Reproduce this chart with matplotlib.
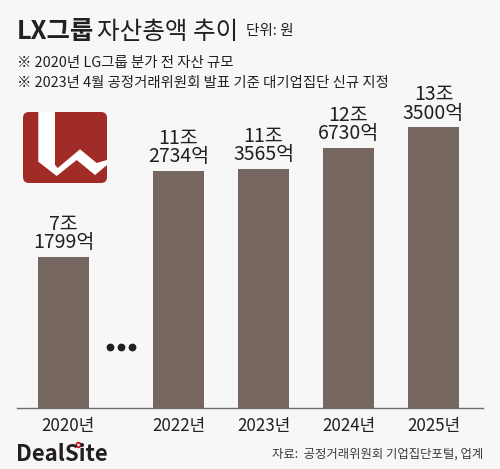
import matplotlib
matplotlib.use("Agg")
import matplotlib.pyplot as plt
from matplotlib.patches import FancyBboxPatch, Polygon, Circle
from matplotlib.transforms import ScaledTranslation

plt.rcParams['font.family'] = ['Noto Sans CJK KR', 'DejaVu Sans']

years = ['2020년', '2022년', '2023년', '2024년', '2025년']
positions = [0, 1.353, 2.353, 3.353, 4.353]
bar_heights = [7.18, 11.27, 11.36, 12.36, 13.35]
value_labels = ['7조\n1799억', '11조\n2734억', '11조\n3565억', '12조\n6730억', '13조\n3500억']

W, H = 500, 469
BG = '#f7f7f7'
BAR = '#756660'
INK = '#231f20'

fig = plt.figure(figsize=(W/100, H/100), dpi=100, facecolor=BG)

def fx(x): return x / W
def fy(y): return 1 - y / H

ax_top = 60
ax = fig.add_axes([fx(17), fy(407.5), fx(466), (407.5 - ax_top) / H])
ax.set_facecolor('none')
unit = 85.0
ax.set_xlim((17 - 63.5) / unit, (483 - 63.5) / unit)
ax.set_ylim(0, (407.5 - ax_top) / 21.0)
ax.bar(positions, bar_heights, width=51 / unit, color=BAR, zorder=2)
for s in ['top', 'left', 'right']:
    ax.spines[s].set_visible(False)
ax.spines['bottom'].set_color('#6f6a68')
ax.spines['bottom'].set_linewidth(1.0)
ax.set_yticks([])
ax.set_xticks(positions)
ax.set_xticklabels(years, fontsize=12.2, color=INK)
ax.tick_params(axis='x', length=0, pad=7)
first = ax.get_xticklabels()[0]
first.set_transform(first.get_transform() + ScaledTranslation(3 / 72, 0, fig.dpi_scale_trans))

for x, h, t in zip(positions, bar_heights, value_labels):
    ax.annotate(t, (x, h), xytext=(0, 2.5), textcoords='offset points', ha='center', va='bottom',
                fontsize=14, color=INK, linespacing=0.84)

gap_x = (positions[0] + positions[1]) / 2
ax.plot([gap_x - 0.13, gap_x, gap_x + 0.13], [2.88, 2.88, 2.88], ls='none', marker='o', ms=4.6, color=INK)

fig.text(fx(17), fy(39), 'LX그룹', fontsize=18.3, fontweight='bold', color=INK, va='baseline')
fig.text(fx(97), fy(39), '자산총액 추이', fontsize=17.7, color=INK, va='baseline')
fig.text(fx(246), fy(35), '단위: 원', fontsize=10.5, color=INK, va='baseline')
fig.text(fx(17), fy(67), '※ 2020년 LG그룹 분가 전 자산 규모', fontsize=10.4, color=INK, va='baseline')
fig.text(fx(17), fy(86.5), '※ 2023년 4월 공정거래위원회 발표 기준 대기업집단 신규 지정', fontsize=10.35, color=INK, va='baseline')

fig.text(fx(16), fy(460.5), 'DealSite', fontsize=16, fontweight='bold', color=INK, va='baseline')
fig.text(fx(483), fy(458), '자료:  공정거래위원회 기업집단포털, 업계', fontsize=8.9, color='#3a3a3a', ha='right', va='baseline')

logo = fig.add_axes([0, 0, 1, 1], facecolor='none')
logo.set_xlim(0, W); logo.set_ylim(H, 0); logo.axis('off')
logo.add_patch(FancyBboxPatch((23, 112), 84, 71, boxstyle='round,pad=0,rounding_size=6', fc='#a12c27', ec='none'))
logo.add_patch(Polygon([(38.3, 112), (55, 112), (55, 165), (57.7, 168), (80, 149.3), (96.7, 163), (107, 160),
                        (107, 165), (95, 175), (76.7, 160), (56.7, 176), (38.3, 161.7)],
                       closed=True, fc='white', ec='none'))
logo.add_patch(Circle((78.5, 445), 3.6, fc='#d0161c', ec=BG, lw=0.6))
logo.add_patch(Circle((78.5, 445), 1.3, fc='white', ec='none'))

fig.savefig('out.png', dpi=100, facecolor=BG)
